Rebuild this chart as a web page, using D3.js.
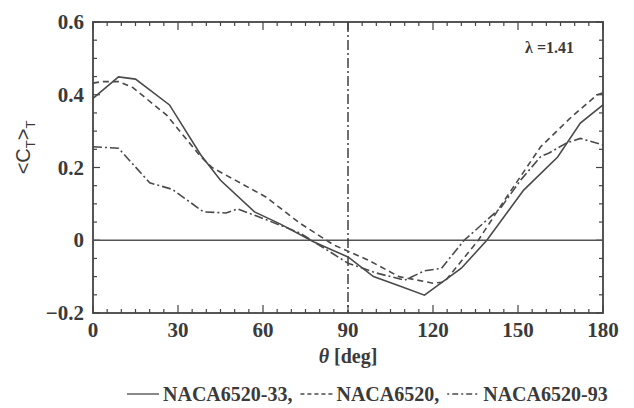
<!DOCTYPE html>
<html>
<head>
<meta charset="utf-8">
<script src="https://cdn.jsdelivr.net/npm/d3@7"></script>
<style>
  body { margin: 0; background: #fff; }
  svg { display: block; }
  .tick-label { font-family: "Liberation Serif", "DejaVu Serif", serif; font-weight: bold; font-size: 21px; fill: #3a3a3a; }
</style>
</head>
<body>
<div id="chart"></div>
<script>
// Data (theta in degrees, <C_T>_T)
const thetaSolid = [0, 9, 15, 27, 38, 45, 57, 66, 78, 90, 99, 108, 117, 130, 139, 152, 164, 172, 180];
const ctSolid = [0.39, 0.449, 0.443, 0.372, 0.235, 0.165, 0.078, 0.045, -0.005, -0.046, -0.10, -0.125, -0.151, -0.077, 0.0, 0.138, 0.229, 0.322, 0.372];

const thetaDashed = [0, 3, 9, 14, 26, 38, 42, 50, 61, 73, 85, 97, 108, 120, 124, 136, 146, 158, 169, 178, 180];
const ctDashed = [0.432, 0.436, 0.436, 0.42, 0.344, 0.23, 0.2, 0.166, 0.119, 0.047, -0.013, -0.054, -0.1, -0.118, -0.115, 0.0, 0.119, 0.257, 0.34, 0.40, 0.405];

const thetaDashDot = [0, 9, 20, 28, 39, 47, 51, 58, 73, 90, 100, 110, 117, 123, 131, 144, 151, 158, 161, 167, 172, 180];
const ctDashDot = [0.257, 0.253, 0.158, 0.14, 0.078, 0.075, 0.086, 0.066, 0.02, -0.063, -0.09, -0.11, -0.084, -0.077, 0.0, 0.09, 0.166, 0.23, 0.24, 0.267, 0.28, 0.262];

const xTicks = [0, 30, 60, 90, 120, 150, 180];
const yTicks = [-0.2, 0, 0.2, 0.4, 0.6];
const legendLabels = ["NACA6520-33,", "NACA6520,", "NACA6520-93"];

const svgWidth = 634;
const svgHeight = 408;
const margin = { top: 22, right: 31, bottom: 95, left: 93 };
const width = svgWidth - margin.left - margin.right;
const height = svgHeight - margin.top - margin.bottom;

const ink = "#444";
const dashes = { solid: null, dashed: "6,4", dashdot: "9,3,2,3" };

const svg = d3.select("#chart").append("svg")
    .attr("width", svgWidth)
    .attr("height", svgHeight)
    .append("g")
    .attr("transform", `translate(${margin.left},${margin.top})`);

const xScale = d3.scaleLinear().domain([0, 180]).range([0, width]);
const yScale = d3.scaleLinear().domain([-0.2, 0.6]).range([height, 0]);

// minor / major ticks, all pointing inward on all four sides
const xMinor = d3.range(0, 181, 5);
const yMinor = d3.range(-0.2, 0.6001, 0.05);

function drawTicks(g, axis, vals, len, majorLen, isMajor) {
    vals.forEach(v => {
        const L = isMajor(v) ? majorLen : len;
        if (axis === "x") {
            const x = xScale(v);
            g.append("line").attr("x1", x).attr("x2", x).attr("y1", height).attr("y2", height - L);
            g.append("line").attr("x1", x).attr("x2", x).attr("y1", 0).attr("y2", L);
        } else {
            const y = yScale(v);
            g.append("line").attr("y1", y).attr("y2", y).attr("x1", 0).attr("x2", L);
            g.append("line").attr("y1", y).attr("y2", y).attr("x1", width).attr("x2", width - L);
        }
    });
}

const tickG = svg.append("g").attr("stroke", ink).attr("stroke-width", 1.2);
drawTicks(tickG, "x", xMinor, 4, 8, v => v % 30 === 0);
drawTicks(tickG, "y", yMinor, 4, 7, v => Math.abs(Math.round(v * 100) % 20) === 0);

// zero line
svg.append("line")
    .attr("x1", 0).attr("x2", width)
    .attr("y1", yScale(0)).attr("y2", yScale(0))
    .attr("stroke", "#555").attr("stroke-width", 1.6);

// vertical dash-dot line at 90 deg
svg.append("line")
    .attr("x1", xScale(90)).attr("x2", xScale(90))
    .attr("y1", 0).attr("y2", height)
    .attr("stroke", "#333").attr("stroke-width", 1.4)
    .attr("stroke-dasharray", "10,3,2,3");

// curves
const line = d3.line().x(d => xScale(d[0])).y(d => yScale(d[1]));
const series = [
    { t: thetaSolid, v: ctSolid, dash: dashes.solid },
    { t: thetaDashed, v: ctDashed, dash: dashes.dashed },
    { t: thetaDashDot, v: ctDashDot, dash: dashes.dashdot }
];
series.forEach(s => {
    svg.append("path")
        .datum(s.t.map((t, i) => [t, s.v[i]]))
        .attr("d", line)
        .attr("fill", "none")
        .attr("stroke", "#4a4a4a")
        .attr("stroke-width", 1.6)
        .attr("stroke-dasharray", s.dash);
});

// frame
svg.append("rect")
    .attr("width", width).attr("height", height)
    .attr("fill", "none").attr("stroke", ink).attr("stroke-width", 1.8);

// tick labels
svg.selectAll(".xl").data(xTicks).enter().append("text")
    .attr("class", "tick-label")
    .attr("x", d => xScale(d)).attr("y", height + 24)
    .attr("text-anchor", "middle")
    .text(d => d);

svg.selectAll(".yl").data(yTicks).enter().append("text")
    .attr("class", "tick-label")
    .attr("x", -9).attr("y", d => yScale(d) + 7)
    .attr("text-anchor", "end")
    .text(d => d === 0 ? "0" : d3.format(".1f")(d));

// x axis title
const xt = svg.append("text")
    .attr("class", "tick-label")
    .attr("x", xScale(90)).attr("y", height + 50)
    .attr("text-anchor", "middle")
    .style("font-size", "20px");
xt.append("tspan").style("font-style", "italic").text("θ");
xt.append("tspan").text(" [deg]");

// y axis title <C_T>_T
const yt = svg.append("text")
    .attr("transform", `translate(${-63},${yScale(0.2) - 20}) rotate(-90)`)
    .attr("text-anchor", "middle")
    .style("font-family", "'Liberation Sans', Arial, sans-serif")
    .style("font-size", "20px")
    .attr("fill", "#3a3a3a");
yt.append("tspan").text("<C");
yt.append("tspan").attr("dy", 5).style("font-size", "13px").text("T");
yt.append("tspan").attr("dy", -5).text(">");
yt.append("tspan").attr("dy", 5).style("font-size", "13px").text("T");

// lambda annotation
svg.append("text")
    .attr("class", "tick-label")
    .attr("x", width - 29).attr("y", 31)
    .attr("text-anchor", "end")
    .style("font-size", "16px")
    .text("λ =1.41");

// legend below the chart
const legend = svg.append("g").attr("transform", `translate(0,${height + 88})`);
let cx = 34;
const legendDashes = [dashes.solid, "4,3", "2,3,6,3"];
legendLabels.forEach((lab, i) => {
    legend.append("line")
        .attr("x1", cx).attr("x2", cx + 32)
        .attr("y1", -7).attr("y2", -7)
        .attr("stroke", "#4a4a4a").attr("stroke-width", 1.3)
        .attr("stroke-dasharray", legendDashes[i]);
    cx += 36;
    const t = legend.append("text")
        .attr("class", "tick-label")
        .attr("x", cx).attr("y", 0)
        .style("font-size", "20px")
        .text(lab);
    cx += t.node().getComputedTextLength() + 8;
});
</script>
</body>
</html>
